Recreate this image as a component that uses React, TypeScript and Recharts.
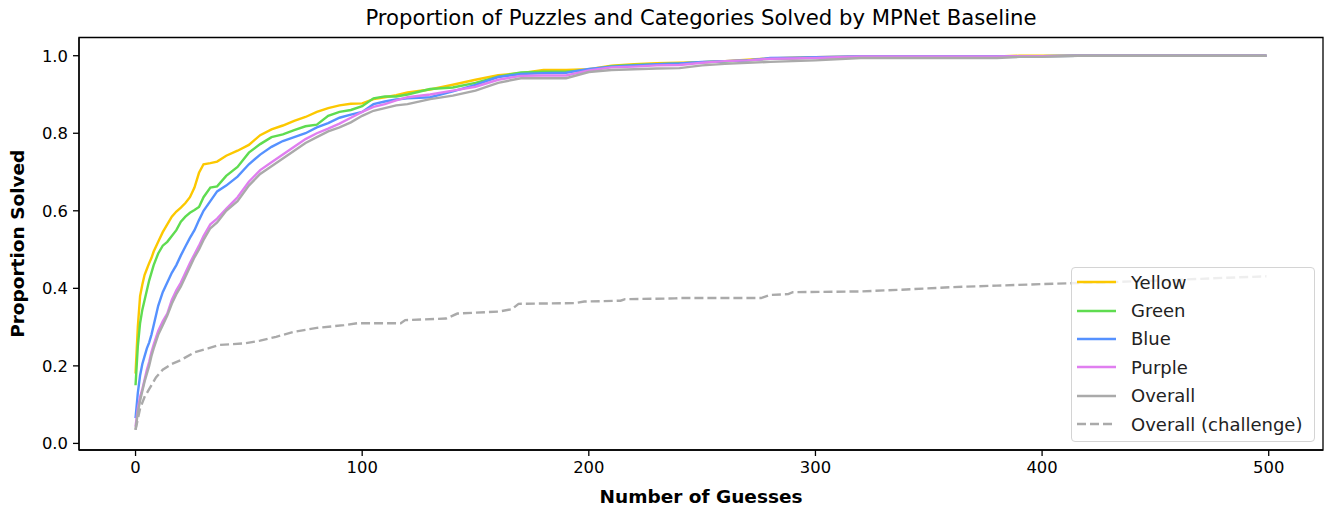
import React from "react";
import { LineChart, Line, XAxis, YAxis, ReferenceArea } from "recharts";

const GUESSES = [
  0, 1, 2, 3, 4, 5, 6, 7, 8,
  10, 12, 14, 16, 18, 20, 22, 24, 26, 28, 30,
  33, 36, 40,
  45, 50, 55, 60, 65, 70, 75, 80, 85, 90, 95, 100, 105, 110, 115, 120,
  130, 140, 150, 160, 170, 180, 190, 200, 210, 220, 230, 240, 250, 260, 270, 280, 290, 300,
  320, 340, 360, 380,
  390, 400, 416, 450, 499,
];

const YELLOW = [
  0.18, 0.3, 0.38, 0.41, 0.435, 0.45, 0.465, 0.478, 0.495,
  0.52, 0.545, 0.565, 0.585, 0.598, 0.608, 0.62, 0.635, 0.66, 0.698, 0.72,
  0.723, 0.727, 0.742,
  0.755, 0.77, 0.795, 0.81, 0.82, 0.832, 0.842, 0.855, 0.865, 0.872, 0.876, 0.877, 0.888, 0.893, 0.898, 0.905,
  0.913, 0.925, 0.938, 0.95, 0.955, 0.963, 0.963, 0.965, 0.974, 0.978, 0.981, 0.982, 0.983, 0.986, 0.99, 0.993, 0.995, 0.996,
  0.998, 0.998, 0.998, 0.998,
  1.0, 1.0, 1.0, 1.0, 1.0,
];

const GREEN = [
  0.15, 0.25, 0.31, 0.345, 0.37, 0.395, 0.42, 0.44, 0.46,
  0.49, 0.51, 0.52, 0.535, 0.55, 0.572, 0.585, 0.595, 0.602, 0.61, 0.635,
  0.66, 0.663, 0.69,
  0.713, 0.75, 0.772, 0.79, 0.797, 0.808, 0.818, 0.822, 0.845, 0.855, 0.86, 0.87, 0.89, 0.895, 0.895, 0.9,
  0.914, 0.918, 0.93, 0.946, 0.957, 0.959, 0.959, 0.963, 0.973, 0.976, 0.978, 0.98, 0.983, 0.985, 0.988, 0.992, 0.993, 0.995,
  0.997, 0.997, 0.997, 0.997,
  0.998, 0.999, 1.0, 1.0, 1.0,
];

const BLUE = [
  0.065, 0.13, 0.175, 0.205, 0.225, 0.245, 0.26, 0.28, 0.305,
  0.355, 0.39, 0.415, 0.44, 0.46, 0.485, 0.508, 0.53, 0.55, 0.576, 0.6,
  0.625, 0.65, 0.665,
  0.688, 0.72, 0.745, 0.765, 0.78, 0.79, 0.8, 0.815, 0.826, 0.84, 0.848, 0.855, 0.875, 0.882, 0.887, 0.89,
  0.893, 0.908, 0.925, 0.945, 0.953, 0.955, 0.956, 0.966, 0.972, 0.975, 0.978, 0.98, 0.984, 0.986, 0.988, 0.994, 0.995, 0.996,
  0.999, 0.999, 0.999, 0.999,
  0.999, 0.999, 1.0, 1.0, 1.0,
];

const PURPLE = [
  0.043, 0.09, 0.12, 0.14, 0.165, 0.19, 0.21, 0.235, 0.255,
  0.29, 0.315, 0.335, 0.37, 0.395, 0.415, 0.44, 0.465, 0.488, 0.51, 0.535,
  0.565, 0.58, 0.605,
  0.635, 0.675, 0.705, 0.725, 0.745, 0.765, 0.785, 0.8, 0.812, 0.825, 0.84, 0.855, 0.868, 0.875, 0.885, 0.893,
  0.9, 0.91, 0.92, 0.938, 0.948, 0.949, 0.949, 0.962, 0.97, 0.972, 0.975, 0.976, 0.982, 0.986, 0.988, 0.992, 0.993, 0.994,
  0.998, 0.998, 0.998, 0.998,
  0.999, 0.999, 1.0, 1.0, 1.0,
];

const OVERALL = [
  0.035, 0.08, 0.11, 0.135, 0.16, 0.18, 0.2, 0.225, 0.245,
  0.28, 0.305, 0.33, 0.36, 0.385, 0.405, 0.43, 0.455, 0.48, 0.5, 0.525,
  0.555, 0.57, 0.6,
  0.625, 0.665, 0.695, 0.715, 0.735, 0.755, 0.775, 0.79, 0.805, 0.815, 0.828, 0.845, 0.858, 0.865, 0.872, 0.875,
  0.888, 0.897, 0.91, 0.93, 0.942, 0.942, 0.942, 0.958, 0.963, 0.965, 0.967, 0.968, 0.975, 0.979, 0.982, 0.984, 0.986, 0.988,
  0.994, 0.994, 0.994, 0.994,
  0.997, 0.997, 1.0, 1.0, 1.0,
];

const CHALLENGE_GUESSES = [
  0, 2, 4, 6, 9, 12, 16, 20, 26, 32, 37, 48, 55, 62, 70, 80, 92, 98, 117, 119,
  137, 142, 160, 166, 169, 194, 198, 214, 216, 238, 240, 276, 280, 288, 290,
  320, 340, 360, 380, 400, 430, 460, 480, 499,
];

const CHALLENGE = [
  0.035, 0.09, 0.12, 0.14, 0.17, 0.19, 0.205, 0.215, 0.235, 0.245,
  0.254, 0.258, 0.265, 0.275, 0.288, 0.298, 0.305, 0.31, 0.31, 0.318,
  0.322, 0.335, 0.34, 0.346, 0.36, 0.362, 0.366, 0.368, 0.372, 0.374,
  0.375, 0.375, 0.383, 0.385, 0.39, 0.392, 0.397, 0.403, 0.407, 0.411,
  0.416, 0.422, 0.427, 0.431,
];

const X_TICKS = [0, 100, 200, 300, 400, 500];
const Y_TICKS = [0, 0.2, 0.4, 0.6, 0.8, 1.0];

const X_DOMAIN: [number, number] = [-24.95, 523.95];
const Y_DOMAIN: [number, number] = [-0.017, 1.047];

const FONT = "'DejaVu Sans', sans-serif";

const SERIES = [
  { name: "Yellow", values: YELLOW, color: "#fcc800" },
  { name: "Green", values: GREEN, color: "#5fdc50" },
  { name: "Blue", values: BLUE, color: "#5591ff" },
  { name: "Purple", values: PURPLE, color: "#e07ef0" },
  { name: "Overall", values: OVERALL, color: "#aaaaaa" },
];

const seriesData = SERIES.map((s) => GUESSES.map((g, i) => ({ x: g, y: s.values[i] })));
const challengeData = CHALLENGE_GUESSES.map((g, i) => ({ x: g, y: CHALLENGE[i] }));

const LEGEND_ITEMS = [
  ...SERIES.map((s) => ({ name: s.name, color: s.color, dash: false })),
  { name: "Overall (challenge)", color: "#aaaaaa", dash: true },
];

const LegendBox = () => (
  <div
    style={{
      position: "absolute",
      left: 1071,
      top: 267,
      width: 244,
      height: 175,
      boxSizing: "border-box",
      border: "1px solid #d4d4d4",
      borderRadius: 4,
      background: "rgba(255,255,255,0.8)",
      fontFamily: FONT,
      fontSize: 18,
      color: "#222",
      paddingTop: 0,
    }}
  >
    {LEGEND_ITEMS.map((it) => (
      <div key={it.name} style={{ display: "flex", alignItems: "center", height: 28.4, paddingLeft: 5 }}>
        <svg width={40} height={6} style={{ marginRight: 14 }}>
          <line
            x1={0}
            y1={3}
            x2={39}
            y2={3}
            stroke={it.color}
            strokeWidth={2.4}
            strokeDasharray={it.dash ? "9 4" : undefined}
          />
        </svg>
        <span style={{ whiteSpace: "nowrap" }}>{it.name}</span>
      </div>
    ))}
  </div>
);

export default function App() {
  return (
    <div style={{ position: "absolute", left: 0, top: 0, width: 1331, height: 508, background: "#fff" }}>
      <LineChart
        width={1331}
        height={508}
        margin={{ top: 37.5, right: 8, bottom: 0, left: 0 }}
      >
        <text x={701} y={25} textAnchor="middle" fontFamily={FONT} fontSize={21.2} fill="#000">
          Proportion of Puzzles and Categories Solved by MPNet Baseline
        </text>
        <text x={701} y={503} textAnchor="middle" fontFamily={FONT} fontSize={18.5} fontWeight="bold" fill="#000">
          Number of Guesses
        </text>
        <text
          x={24}
          y={243.75}
          textAnchor="middle"
          fontFamily={FONT}
          fontSize={18.5}
          fontWeight="bold"
          fill="#000"
          transform="rotate(-90 24 243.75)"
        >
          Proportion Solved
        </text>
        <XAxis
          type="number"
          dataKey="x"
          domain={X_DOMAIN}
          allowDataOverflow
          ticks={X_TICKS}
          height={58}
          tickSize={6}
          tickMargin={5}
          axisLine={{ stroke: "#000", strokeWidth: 1.3 }}
          tickLine={{ stroke: "#000", strokeWidth: 1.3 }}
          tick={{ fill: "#000", fontSize: 16.4, fontFamily: FONT }}
          interval={0}
        />
        <YAxis
          type="number"
          dataKey="y"
          domain={Y_DOMAIN}
          allowDataOverflow
          ticks={Y_TICKS}
          width={79}
          tickSize={6}
          tickMargin={5}
          axisLine={{ stroke: "#000", strokeWidth: 1.3 }}
          tickLine={{ stroke: "#000", strokeWidth: 1.3 }}
          tick={{ fill: "#000", fontSize: 16.4, fontFamily: FONT }}
          tickFormatter={(v: number) => v.toFixed(1)}
          interval={0}
        />
        {SERIES.map((s, i) => (
          <Line
            key={s.name}
            data={seriesData[i]}
            dataKey="y"
            name={s.name}
            type="linear"
            stroke={s.color}
            strokeWidth={2.4}
            dot={false}
            activeDot={false}
            isAnimationActive={false}
          />
        ))}
        <Line
          data={challengeData}
          dataKey="y"
          name="Overall (challenge)"
          type="linear"
          stroke="#aaaaaa"
          strokeWidth={2.4}
          strokeDasharray="9 4"
          dot={false}
          activeDot={false}
          isAnimationActive={false}
        />
        <ReferenceArea
          x1={X_DOMAIN[0]}
          x2={X_DOMAIN[1]}
          y1={Y_DOMAIN[0]}
          y2={Y_DOMAIN[1]}
          fill="none"
          stroke="#000"
          strokeWidth={1.3}
          ifOverflow="visible"
        />
      </LineChart>
      <LegendBox />
    </div>
  );
}
